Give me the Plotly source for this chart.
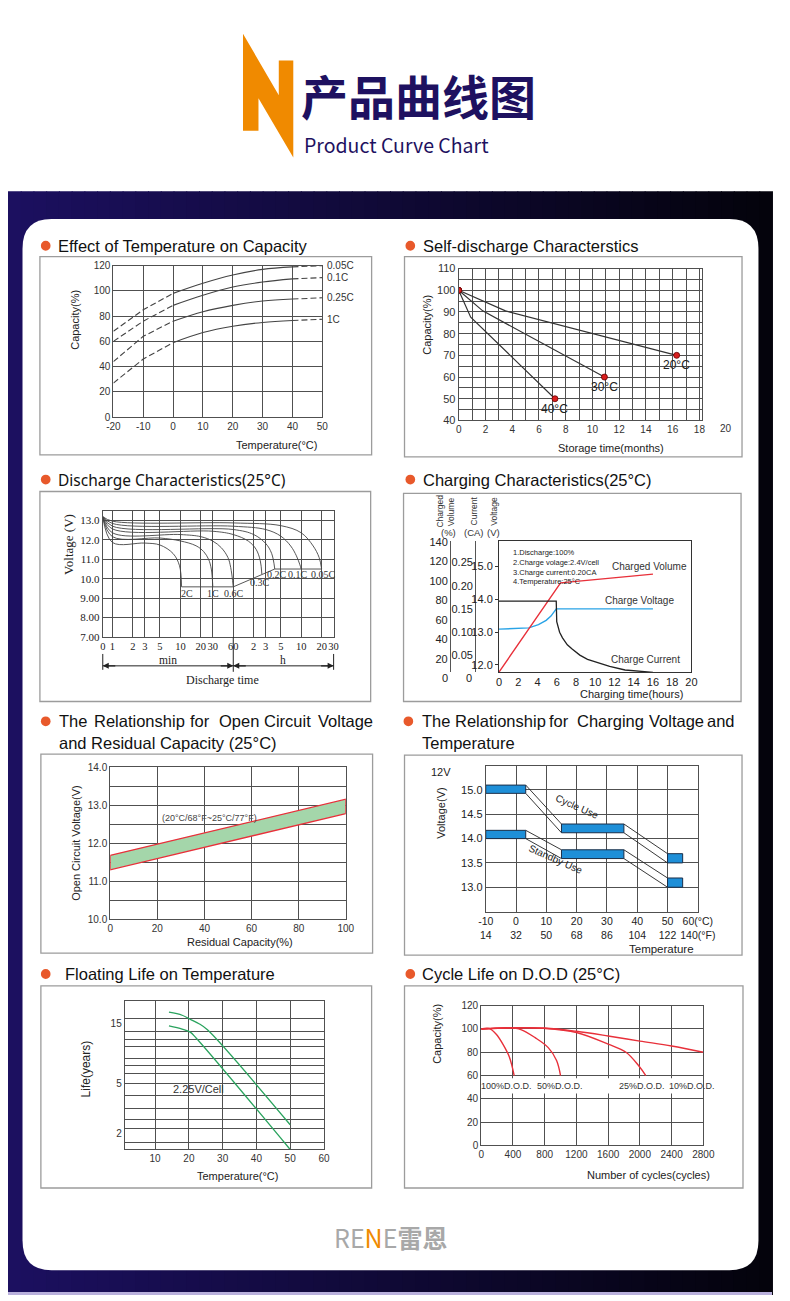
import numpy as np
import plotly.graph_objects as go

W, H = 790, 1301
SANS = 'Liberation Sans, Arial, sans-serif'
SERIF = 'Liberation Serif, Times New Roman, serif'
CJK = 'Noto Sans CJK SC'
NAVY = '#1e1160'
ORANGE = '#f08a00'
DOT = '#e8592b'
GRID = '#505050'
BOX = '#9c9c9c'
RED = '#e8303a'
GREEN = '#2aa35e'
BLUE = '#1e8fd8'

# ---------------- data ----------------
# Effect of Temperature on Capacity
temp_c = [-20, -10, 0, 10, 20, 30, 40, 50]
cap_005c = [68, 85, 98, 106, 112.5, 117, 119, 120]
cap_01c = [60, 76, 88.5, 96.5, 103, 107, 109.5, 110.5]
cap_025c = [44, 64, 76, 83.5, 88.5, 92, 93.5, 94.5]
cap_1c = [27, 46, 59, 67, 72, 75, 76.5, 77.5]
temp_rates = ['0.05C', '0.1C', '0.25C', '1C']

# Self-discharge
sd_months_20 = [0, 3.5, 16.3]
sd_cap_20 = [100, 90.5, 70]
sd_months_30 = [0, 1.8, 10.9]
sd_cap_30 = [100, 90.5, 60]
sd_months_40 = [0, 0.9, 7.2]
sd_cap_40 = [100, 87.6, 50]
sd_labels = ['20°C', '30°C', '40°C']

# Discharge characteristics (minutes, volts)
dis_t_2c = [0.72, 1, 3, 5, 7.8, 9.7, 10.4]
dis_v_2c = [13.2, 11.87, 11.84, 11.74, 11.3, 10.67, 9.58]
dis_t_1c = [0.72, 1, 5, 10, 17, 22, 26, 28.5, 30]
dis_v_1c = [13.2, 12.17, 12.1, 11.95, 11.7, 11.4, 11.0, 10.5, 9.58]
dis_t_06c = [0.72, 1, 10, 20, 30, 40, 50, 55, 60]
dis_v_06c = [13.2, 12.37, 12.28, 12.17, 11.94, 11.6, 11.1, 10.58, 9.58]
dis_t_03c = [0.72, 1, 30, 60, 100, 130, 150, 158]
dis_v_03c = [13.2, 12.57, 12.45, 12.28, 11.94, 11.52, 10.92, 10.24]
dis_t_02c = [0.72, 1, 60, 120, 180, 220, 245]
dis_v_02c = [13.2, 12.71, 12.54, 12.28, 11.82, 11.31, 10.5]
dis_t_01c = [0.72, 1, 60, 180, 300, 420, 510, 570, 600]
dis_v_01c = [13.2, 12.85, 12.71, 12.54, 12.2, 11.69, 11.18, 10.75, 10.5]
dis_t_005c = [0.72, 1, 60, 300, 600, 900, 1100, 1200]
dis_v_005c = [13.2, 12.97, 12.88, 12.74, 12.37, 11.69, 11.1, 10.5]
dis_labels = ['2C', '1C', '0.6C', '0.3C', '0.2C', '0.1C', '0.05C']
cutoff_t = [10.4, 60, 245, 1200]
cutoff_v = [9.58, 9.58, 10.5, 10.5]
dis_tick_t = [0.72, 1, 2, 3, 5, 10, 20, 30, 60, 120, 180, 300, 600, 1200, 1800]
dis_tick_text = ['0', '1', '2', '3', '5', '10', '20', '30', '60', '2', '3', '5', '10', '20', '30']
dis_tick_v = [7, 8, 9, 10, 11, 12, 13]
dis_tick_v_text = ['7.00', '8.00', '9.00', '10.0', '11.0', '12.0', '13.0']

# Charging characteristics
chg_h_volume = [0, 6.4, 16]
chg_volume = [6.4, 98, 107]
chg_h_voltage = [0, 3.1, 4.1, 4.9, 5.4, 5.75, 5.95, 16]
chg_voltage = [13.09, 13.13, 13.23, 13.36, 13.49, 13.64, 13.71, 13.71]
chg_h_current = [0, 5.95, 6.0, 6.3, 6.6, 7.1, 7.6, 8.4, 9.2, 10.4, 11.5, 13.1, 14.5, 16]
chg_current = [0.167, 0.167, 0.123, 0.100, 0.088, 0.073, 0.064, 0.051, 0.042, 0.034, 0.027, 0.019, 0.016, 0.014]
chg_volume_ticks = [20, 40, 60, 80, 100, 120, 140]
chg_current_ticks = [0.05, 0.10, 0.15, 0.20, 0.25]
chg_voltage_ticks = [12, 13, 14, 15]

# Open circuit voltage vs residual capacity
ocv_cap = [0, 100]
ocv_upper = [11.68, 13.16]
ocv_lower = [11.30, 12.78]

# Charging voltage vs temperature
cv_t_lo = [-10, 15, 50]
cv_t_hi = [3.2, 35.6, 55]
cycle_lo = [14.93, 14.12, 13.5]
cycle_hi = [15.1, 14.3, 13.69]
standby_lo = [14.0, 13.59, 13.0]
standby_hi = [14.17, 13.77, 13.19]
cv_tick_c = [-10, 0, 10, 20, 30, 40, 50, 60]
cv_tick_f = ['14', '32', '50', '68', '86', '104', '122', '140(°F)']

# Floating life
fl_t_upper = [14.1, 18, 20.7, 23, 25.5, 50]
fl_life_upper = [18.5, 17.5, 16.1, 15, 13.4, 2.36]
fl_t_lower = [14.1, 18, 20.3, 22.2, 50]
fl_life_lower = [14.4, 13.6, 12.9, 11.5, 1.5]
fl_grid_years = [1.7, 2.2, 2.6, 3.2, 4, 5, 6, 7, 8, 9.8, 11.2, 12.9, 16.4]

# Cycle life on DOD
cl_x_100 = [0, 100, 190, 273, 355, 416]
cl_y_100 = [100, 100.5, 95.5, 87, 76, 60]
cl_x_50 = [0, 350, 500, 680, 845, 950, 1000]
cl_y_50 = [100, 101, 99.5, 92.5, 84, 73, 60]
cl_x_25 = [0, 400, 800, 1200, 1600, 1825, 1990, 2075]
cl_y_25 = [100, 101, 100.5, 97, 87, 80, 68, 60]
cl_x_10 = [0, 400, 800, 1200, 1600, 2000, 2400, 2800]
cl_y_10 = [100, 101, 100.8, 98, 94, 89.6, 85.4, 80]
cl_labels = ['100%D.O.D.', '50%D.O.D.', '25%D.O.D.', '10%D.O.D.']


def P(x, y):
    return f'{x / W:.5f},{1 - y / H:.5f}'


fig = go.Figure()
shapes = []
ann = []
axes_layout = {}


def note(x, y, s, size=11, color='#222', family=SANS, xanchor='center', yanchor='middle',
         angle=0, xref='paper', yref='paper', **kw):
    if xref == 'paper':
        x = x / W
    if yref == 'paper':
        y = 1 - y / H
    ann.append(dict(x=x, y=y, xref=xref, yref=yref, text=s, showarrow=False,
                    font=dict(size=size, color=color, family=family),
                    xanchor=xanchor, yanchor=yanchor, textangle=angle, **kw))


def rect(l, t, r, b, fill=None, color=None, width=0, layer='below'):
    shapes.append(dict(type='rect', xref='paper', yref='paper', x0=l / W, x1=r / W,
                       y0=1 - b / H, y1=1 - t / H, fillcolor=fill,
                       line=dict(color=color, width=width), layer=layer))


BASE_AX = dict(showline=True, mirror=True, linecolor=GRID, linewidth=1, showgrid=True,
               gridcolor=GRID, gridwidth=1, zeroline=False, ticks='', tickangle=0,
               tickfont=dict(family=SANS, size=10, color='#333'), fixedrange=True)


def axes(n, left, right, top, bottom, xkw, ykw):
    s = '' if n == 1 else str(n)
    xa = dict(BASE_AX)
    xa.update(domain=[left / W, right / W], anchor='y' + s)
    xa.update(xkw)
    ya = dict(BASE_AX)
    ya.update(domain=[1 - bottom / H, 1 - top / H], anchor='x' + s)
    ya.update(ykw)
    axes_layout['xaxis' + s] = xa
    axes_layout['yaxis' + s] = ya


def line(n, x, y, color='#444', width=1.1, dash=None, shape='linear', yaxis=None, **kw):
    s = '' if n == 1 else str(n)
    fig.add_trace(go.Scatter(x=x, y=y, xaxis='x' + s, yaxis=yaxis or 'y' + s, mode='lines',
                             line=dict(color=color, width=width, dash=dash, shape=shape),
                             hoverinfo='skip', showlegend=False, **kw))


# ---------------- page decoration ----------------
n_strips = 60
c_left = np.array([28, 16, 96])
c_right = np.array([4, 3, 12])
for i in range(n_strips):
    c = c_left + (c_right - c_left) * i / (n_strips - 1)
    rect(i * W / n_strips, 187, (i + 1) * W / n_strips + 1, 1301,
         fill='rgb(%d,%d,%d)' % tuple(c.astype(int)))
rect(0, 1298, W, 1301, fill='#b9b0dc')

l, t, r, b, rr = 15, 215, 776, 1276, 30
card = (f'M{P(l + rr, t)} L{P(r - rr, t)} Q{P(r, t)} {P(r, t + rr)} L{P(r, b - rr)} '
        f'Q{P(r, b)} {P(r - rr, b)} L{P(l + rr, b)} Q{P(l, b)} {P(l, b - rr)} '
        f'L{P(l, t + rr)} Q{P(l, t)} {P(l + rr, t)} Z')
shapes.append(dict(type='path', xref='paper', yref='paper', path=card, fillcolor='white',
                   line=dict(width=0), layer='below'))

# N logo
logo = [(243, 28), (280, 90), (280, 55), (295, 55), (295, 153), (259, 93), (259, 126), (243, 126)]
logo_path = 'M' + ' L'.join(P(*p) for p in logo) + ' Z'
shapes.append(dict(type='path', xref='paper', yref='paper', path=logo_path, fillcolor=ORANGE,
                   line=dict(width=0), layer='below'))
note(301, 89, '<b>产品曲线图</b>', size=47, color=NAVY, family=CJK, xanchor='left')
note(304, 140, 'Product Curve Chart', size=19.5, color=NAVY, family=CJK, xanchor='left')

# footer brand
note(395, 1242, "RE<span style='color:#f08a00'>N</span>E<b>雷恩</b>", size=25,
     color='#a8a8a8', family=CJK)

# panel boxes
for box in [(33, 253, 376, 453), (410, 253, 759, 455), (33, 490, 375, 702), (409, 492, 758, 702),
            (34, 755, 377, 956), (410, 756, 759, 958), (34, 989, 376, 1193), (410, 989, 760, 1193)]:
    rect(*box, color=BOX, width=1.3)


def title_dot(cx, cy):
    shapes.append(dict(type='circle', xref='paper', yref='paper', x0=(cx - 5) / W, x1=(cx + 5) / W,
                       y0=1 - (cy + 5) / H, y1=1 - (cy - 5) / H, fillcolor=DOT,
                       line=dict(width=0), layer='below'))


TS = 16.5
for cx, cy, tx, s, fam in [(39, 242, 50, 'Effect of Temperature on Capacity', SANS),
                           (416, 242, 427, 'Self-discharge Characterstics', SANS),
                           (39, 478, 50, 'Discharge Characteristics(25°C)', 'Noto Sans'),
                           (416, 478, 427, 'Charging Characteristics(25°C)', SANS),
                           (39, 977, 57, 'Floating Life on Temperature', SANS),
                           (416, 977, 426, 'Cycle Life on D.O.D (25°C)', SANS)]:
    title_dot(cx, cy)
    note(tx, cy, s, size=TS if fam == SANS else 15.5, color='#111', family=fam, xanchor='left')

# justified two-line titles
title_dot(39, 722)
words_l = ['The', 'Relationship', 'for', 'Open', 'Circuit']
for x, w in zip([50.7, 87, 186.3, 216.6, 262.9], words_l):
    note(x, 722, w, size=TS, color='#111', xanchor='left')
note(379, 722, 'Voltage', size=TS, color='#111', xanchor='right')
note(50.7, 744, 'and Residual Capacity (25°C)', size=TS, color='#111', xanchor='left')
title_dot(414, 722)
words_r = ['The', 'Relationship', 'for', 'Charging', 'Voltage']
for x, w in zip([425.7, 460.2, 557.7, 586.2, 660.7], words_r):
    note(x, 722, w, size=TS, color='#111', xanchor='left')
note(754, 722, 'and', size=TS, color='#111', xanchor='right')
note(425.7, 744, 'Temperature', size=TS, color='#111', xanchor='left')

# ---------------- 1. Effect of temperature on capacity ----------------
axes(1, 109, 325, 262, 415,
     dict(range=[-20, 50], tickvals=temp_c, ticktext=[str(v) for v in temp_c]),
     dict(range=[0, 120], dtick=20))
for name, caps in zip(temp_rates, [cap_005c, cap_01c, cap_025c, cap_1c]):
    line(1, temp_c[:3], caps[:3], dash='6px,3px')
    line(1, temp_c[2:7], caps[2:7], shape='spline')
    line(1, temp_c[6:], caps[6:], dash='6px,3px')
    note(temp_c[-1], caps[-1], name, size=10, color='#333', xref='x', yref='y',
         xanchor='left', xshift=3)
note(69, 317, 'Capacity(%)', size=11, angle=-90)
note(278, 443, 'Temperature(°C)', size=11)

# ---------------- 2. Self-discharge ----------------
sd_l, sd_r, sd_max = 466, 717.7, 18.2
axes(2, sd_l, sd_r, 265, 418.3,
     dict(range=[0, sd_max], dtick=2, minor=dict(dtick=1, showgrid=True, gridcolor=GRID)),
     dict(range=[40, 110], dtick=10, minor=dict(dtick=5, showgrid=True, gridcolor=GRID),
          tickfont=dict(family=SANS, size=11, color='#333')))
for tm, cp, lab in zip([sd_months_20, sd_months_30, sd_months_40],
                       [sd_cap_20, sd_cap_30, sd_cap_40], sd_labels):
    line(2, tm, cp, color='#333', width=1.2)
    fig.add_trace(go.Scatter(x=[tm[0], tm[-1]], y=[cp[0], cp[-1]], xaxis='x2', yaxis='y2',
                             mode='markers', marker=dict(color='#d81e1e', size=6,
                                                         line=dict(color='#600', width=0.8)),
                             hoverinfo='skip', showlegend=False))
    note(tm[-1], cp[-1], lab, size=12, color='#222', xref='x2', yref='y2',
         yanchor='top', yshift=-1)
note(sd_l + 20 * (sd_r - sd_l) / sd_max, 426, '20', size=10, color='#333')
note(433, 322, 'Capacity(%)', size=11, angle=-90)
note(624, 446, 'Storage time(months)', size=11)

# ---------------- 3. Discharge characteristics ----------------
r0, r1 = np.log10(0.72), np.log10(1800)
axes(3, 98, 336.7, 510, 636.7,
     dict(type='log', range=[r0, r1], tickmode='array', tickvals=dis_tick_t,
          ticktext=dis_tick_text, tickfont=dict(family=SERIF, size=10.5, color='#222')),
     dict(range=[7, 13.48], tickmode='array', tickvals=dis_tick_v, ticktext=dis_tick_v_text,
          tickfont=dict(family=SERIF, size=11, color='#222')))
dis_t = [dis_t_2c, dis_t_1c, dis_t_06c, dis_t_03c, dis_t_02c, dis_t_01c, dis_t_005c]
dis_v = [dis_v_2c, dis_v_1c, dis_v_06c, dis_v_03c, dis_v_02c, dis_v_01c, dis_v_005c]
for tt, vv in zip(dis_t, dis_v):
    line(3, tt, vv, color='#444', width=0.9, shape='spline')
line(3, cutoff_t, cutoff_v, color='#444', width=0.9)
for lab, tm, v in zip(dis_labels, [12.7, 30.6, 61, 150, 266, 530, 1260],
                      [9.25, 9.25, 9.25, 9.78, 10.2, 10.2, 10.2]):
    note(np.log10(tm), v, lab, size=10, family=SERIF, color='#333', xref='x3', yref='y3')


def lx3(tmin):
    return 98 + (np.log10(tmin) - r0) / (r1 - r0) * (336.7 - 98)


xa, xm, xb = lx3(0.72), lx3(60), lx3(1800)
for x0, y0, x1, y1 in [(xa, 666, xb, 666), (xa, 654, xa, 670), (xb, 654, xb, 670),
                       (xm, 637, xm, 672)]:
    shapes.append(dict(type='line', xref='paper', yref='paper', x0=x0 / W, x1=x1 / W,
                       y0=1 - y0 / H, y1=1 - y1 / H, line=dict(color='#222', width=1)))
for hx, off in [(xa, 14), (xm, -14), (xm, 14), (xb, -14)]:
    ann.append(dict(x=hx / W, y=1 - 666 / H, xref='paper', yref='paper', text='',
                    showarrow=True, ax=off, ay=0, arrowhead=2, arrowsize=1, arrowwidth=1.2,
                    arrowcolor='#222'))
note((xa + xm) / 2, 660, 'min', size=11.5, family=SERIF)
note((xm + xb) / 2, 660, 'h', size=11.5, family=SERIF)
note(221.7, 680, 'Discharge time', size=12, family=SERIF)
note(63, 543, 'Voltage (V)', size=13, family=SERIF, angle=-90)

# ---------------- 4. Charging characteristics ----------------
axes(4, 507.7, 706.7, 540, 672.3,
     dict(range=[0, 20], dtick=2, showgrid=False, linecolor='#333',
          tickfont=dict(family=SANS, size=11, color='#222')),
     dict(range=[11.78, 15.78], tickvals=chg_voltage_ticks, tickformat='.1f', showgrid=False,
          linecolor='#333', ticks='outside', ticklen=3, tickcolor='#333',
          tickfont=dict(family=SANS, size=11, color='#222')))
axes_layout['yaxis9'] = dict(overlaying='y4', anchor='free', position=457 / W, side='left',
                             range=[6.4, 141], tickvals=chg_volume_ticks, showline=True,
                             linecolor='#555', showgrid=False, zeroline=False, ticks='',
                             tickfont=dict(family=SANS, size=11, color='#222'), fixedrange=True)
axes_layout['yaxis10'] = dict(overlaying='y4', anchor='free', position=483 / W, side='left',
                              range=[0.0145, 0.296], tickvals=chg_current_ticks,
                              tickformat='.2f', showline=True, linecolor='#555',
                              showgrid=False, zeroline=False, ticks='',
                              tickfont=dict(family=SANS, size=11, color='#222'),
                              fixedrange=True)
line(4, chg_h_current, chg_current, color='#222', width=1.3, yaxis='y10')
line(4, chg_h_voltage, chg_voltage, color='#29a3e6', width=1.4)
line(4, chg_h_volume, chg_volume, color=RED, width=1.4, yaxis='y9')
note(520, 545, '1.Discharge:100%<br>2.Charge volage:2.4V/cell<br>3.Charge current:0.20CA'
     '<br>4.Temperature:25°C', size=7.5, color='#222', xanchor='left', yanchor='top',
     align='left')
note(663, 566, 'Charged Volume', size=10, color='#333')
note(653, 600, 'Charge Voltage', size=10, color='#333')
note(659, 660, 'Charge Current', size=10, color='#333')
note(452, 678, '0', size=11)
note(477, 678, '0', size=11)
note(645, 694, 'Charging time(hours)', size=11)
for x, s in [(447, 'Charged'), (458, 'Volume'), (482, 'Current'), (503, 'Voltage')]:
    note(x, 510, s, size=8.5, angle=-90, color='#333')
for x, s in [(455, '(%)'), (482, '(CA)'), (502, '(V)')]:
    note(x, 531, s, size=9.5, color='#333')

# ---------------- 5. Open circuit voltage ----------------
axes(5, 105.7, 349.3, 768.3, 921.7, dict(range=[0, 100], dtick=20),
     dict(range=[10, 14], tick0=10, dtick=1, tickformat='.1f',
          minor=dict(dtick=0.5, showgrid=True, gridcolor=GRID)))
band_x = ocv_cap + ocv_cap[::-1] + ocv_cap[:1]
band_y = ocv_upper + ocv_lower[::-1] + ocv_upper[:1]
line(5, band_x, band_y, color=RED, width=1.3, fill='toself', fillcolor='#a4d6aa')
note(42, 12.67, '(20°C/68°F~25°C/77°F)', size=9, color='#444', xref='x5', yref='y5')
note(71, 845, 'Open Circuit Voltage(V)', size=11, angle=-90)
note(240, 945, 'Residual Capacity(%)', size=11)

# ---------------- 6. Charging voltage vs temperature ----------------
axes(6, 494, 713.3, 766.7, 914,
     dict(range=[-10, 60], tickvals=cv_tick_c,
          ticktext=[f'{c}<br>{f}' if c != 60 else f'{c}(°C)<br>{f}'
                    for c, f in zip(cv_tick_c, cv_tick_f)],
          tickfont=dict(family=SANS, size=10.5, color='#222')),
     dict(range=[12.5, 15.5], tickvals=[13, 13.5, 14, 14.5, 15], tickformat='.1f',
          tickfont=dict(family=SANS, size=11, color='#222')))
for lo, hi in [(cycle_lo, cycle_hi), (standby_lo, standby_hi)]:
    for i in range(len(cv_t_lo) - 1):
        line(6, [cv_t_hi[i], cv_t_lo[i + 1]], [hi[i], hi[i + 1]], color='#222', width=0.9)
        line(6, [cv_t_hi[i], cv_t_lo[i + 1]], [lo[i], lo[i + 1]], color='#222', width=0.9)
    for i in range(len(cv_t_lo)):
        line(6, [cv_t_lo[i], cv_t_hi[i], cv_t_hi[i], cv_t_lo[i], cv_t_lo[i]],
             [lo[i], lo[i], hi[i], hi[i], lo[i]], color='#1a2e48', width=1,
             fill='toself', fillcolor=BLUE)
note(20, 14.65, 'Cycle Use', size=10, color='#222', angle=24, xref='x6', yref='y6')
note(13.3, 13.58, 'Standby Use', size=10, color='#222', angle=24, xref='x6', yref='y6')
note(448, 773, '12V', size=11)
note(448, 815, 'Voltage(V)', size=11, angle=-90)
note(676, 952, 'Temperature', size=11.5)

# ---------------- 7. Floating life ----------------
axes(7, 120.7, 326.7, 1004.7, 1154,
     dict(range=[1, 60], tickvals=[10, 20, 30, 40, 50, 60]),
     dict(type='log', range=[0.177, 1.353], tickvals=[2, 5, 15], showgrid=False,
          minor=dict(tickmode='array', tickvals=fl_grid_years, showgrid=True,
                     gridcolor=GRID, ticks='')))
line(7, fl_t_upper, fl_life_upper, color=GREEN, width=1.3, shape='spline')
line(7, fl_t_lower, fl_life_lower, color=GREEN, width=1.3, shape='spline')
note(22.8, np.log10(4.5), '2.25V/Cell', size=11, color='#333', xref='x7', yref='y7')
note(81, 1073, 'Life(years)', size=12, angle=-90)
note(237, 1181, 'Temperature(°C)', size=11)

# ---------------- 8. Cycle life on DOD ----------------
axes(8, 489.3, 719, 1009, 1150, dict(range=[0, 2800], dtick=400),
     dict(range=[0, 120], dtick=20))
shapes.append(dict(type='rect', xref='x8', yref='y8', x0=25, x1=2780, y0=44.5, y1=57.7,
                   fillcolor='white', line=dict(width=0), layer='above'))
for cx, cy in [(cl_x_100, cl_y_100), (cl_x_50, cl_y_50), (cl_x_25, cl_y_25),
               (cl_x_10, cl_y_10)]:
    line(8, cx, cy, color=RED, width=1.4, shape='spline')
for lab, x in zip(cl_labels, [314, 996, 2028, 2653]):
    note(x, 51.3, lab, size=9, color='#333', xref='x8', yref='y8')
note(444, 1037, 'Capacity(%)', size=11, angle=-90)
note(662, 1180, 'Number of cycles(cycles)', size=11)

fig.update_layout(width=W, height=H, margin=dict(l=0, r=0, t=0, b=0),
                  paper_bgcolor='white', plot_bgcolor='white', showlegend=False,
                  shapes=shapes, annotations=ann, **axes_layout)
fig.write_html('out.html', config={'displayModeBar': False},
               post_script="document.body.style.margin='0';document.body.style.overflow='hidden';")
